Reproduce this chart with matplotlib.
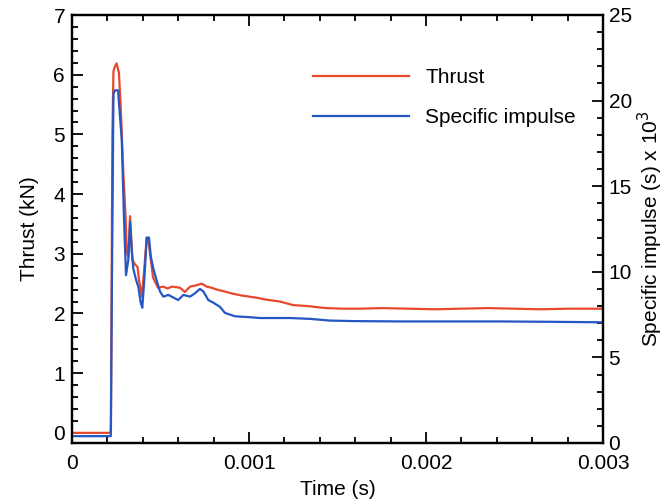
import numpy as np
import matplotlib
matplotlib.use("Agg")
import matplotlib.pyplot as plt
from matplotlib.ticker import MultipleLocator

plt.rcParams["font.family"] = ["Liberation Sans", "DejaVu Sans"]
plt.rcParams["font.size"] = 15

RED, BLUE = "#e8482c", "#2456c4"

# thrust (kN) vs time (microseconds)
t_thrust = [0, 218, 220, 228, 234, 240, 252, 265, 275, 290, 303, 309, 318, 328, 341,
            356, 370, 379, 394, 407, 422, 432, 450, 458, 486, 514, 540, 565, 590, 610,
            638, 667, 700, 733, 761, 790, 818, 860, 910, 960, 1006, 1050, 1100, 1175,
            1249, 1300, 1345, 1400, 1439, 1530, 1627, 1750, 1900, 2050, 2192, 2350,
            2500, 2650, 2800, 3000]
thrust = [0, 0, 0.1, 5.0, 6.05, 6.12, 6.19, 6.03, 5.47, 4.35, 3.6, 3.04, 2.95, 3.63, 2.9,
          2.82, 2.78, 2.55, 2.28, 2.7, 3.27, 3.2, 2.79, 2.6, 2.43, 2.45, 2.42, 2.45, 2.44,
          2.43, 2.36, 2.45, 2.47, 2.5, 2.45, 2.43, 2.4, 2.37, 2.33, 2.3, 2.28, 2.26, 2.23,
          2.2, 2.14, 2.13, 2.12, 2.1, 2.09, 2.08, 2.08, 2.09, 2.08, 2.07, 2.08, 2.09,
          2.08, 2.07, 2.08, 2.08]

# specific impulse (s x 10^3) vs time (microseconds)
t_isp = [0, 219, 226, 234, 243, 260, 281, 294, 305, 318, 328, 337, 346, 360, 375, 388,
         397, 408, 422, 435, 445, 459, 478, 497, 516, 544, 572, 600, 629, 667, 695, 723,
         742, 770, 798, 836, 864, 921, 1000, 1062, 1150, 1232, 1345, 1458, 1600, 1853,
         2100, 2418, 2700, 3000]
isp = [0.4, 0.4, 10.0, 20.4, 20.6, 20.6, 17.7, 13.0, 9.8, 10.7, 12.9, 11.3, 10.2, 9.6,
       9.1, 8.2, 7.9, 9.5, 12.0, 12.0, 10.9, 10.2, 9.5, 8.85, 8.55, 8.65, 8.5, 8.35, 8.65,
       8.55, 8.75, 9.0, 8.85, 8.35, 8.2, 7.95, 7.6, 7.4, 7.35, 7.3, 7.3, 7.3, 7.25, 7.15,
       7.12, 7.1, 7.1, 7.1, 7.08, 7.05]

fig = plt.figure(figsize=(6.65, 5.0), dpi=100)
ax = fig.add_axes([0.1083, 0.114, 0.7985, 0.856])
ax2 = ax.twinx()

l1, = ax.plot(np.array(t_thrust) * 1e-6, thrust, color=RED, lw=1.6, label="Thrust")
l2, = ax2.plot(np.array(t_isp) * 1e-6, isp, color=BLUE, lw=1.6, label="Specific impulse")

ax.set_xlim(0, 0.003)
ax.set_ylim(-0.17, 7)
ax2.set_ylim(0, 25)

ax.xaxis.set_major_locator(MultipleLocator(0.001))
ax.xaxis.set_minor_locator(MultipleLocator(0.0002))
ax.yaxis.set_major_locator(MultipleLocator(1))
ax.yaxis.set_minor_locator(MultipleLocator(0.2))
ax2.yaxis.set_major_locator(MultipleLocator(5))
ax2.yaxis.set_minor_locator(MultipleLocator(1))
ax.set_xticks([0, 0.001, 0.002, 0.003], ["0", "0.001", "0.002", "0.003"])

ax.tick_params(which="both", direction="in", top=True, right=False, width=1.3)
ax.tick_params(which="major", length=8, pad=5)
ax.tick_params(axis="x", which="major", pad=8)
ax.tick_params(which="minor", length=4.5)
ax2.tick_params(which="both", direction="in", width=1.3)
ax2.tick_params(which="major", length=8, pad=4)
ax2.tick_params(which="minor", length=4.5)
for a in (ax, ax2):
    for s in a.spines.values():
        s.set_linewidth(1.6)

ax.set_xlabel("Time (s)", labelpad=5)
ax.set_ylabel("Thrust (kN)", labelpad=10)
ax2.set_ylabel("Specific impulse (s) x 10$^3$", labelpad=3)

ax2.legend([l1, l2], ["Thrust", "Specific impulse"], frameon=False,
           loc="upper left", bbox_to_anchor=(0.418, 0.92), handlelength=4.6,
           handletextpad=0.8, labelspacing=1.0, fontsize=15)

fig.savefig("out.png", dpi=100)
